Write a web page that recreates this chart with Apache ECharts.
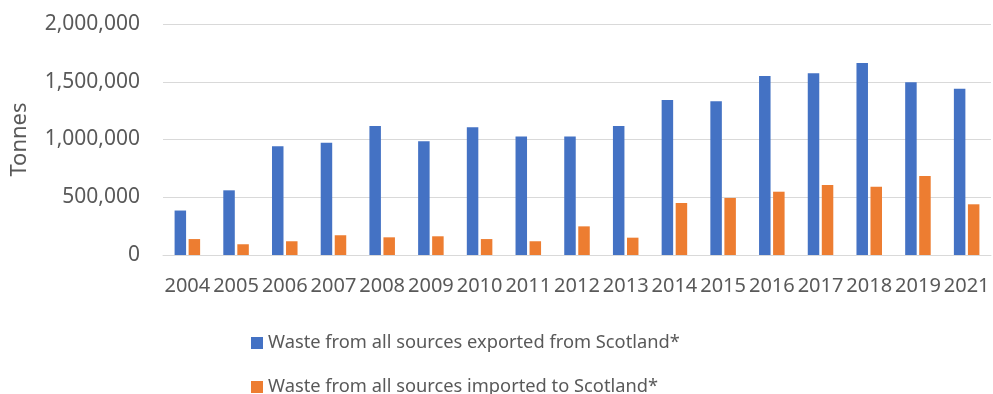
<!DOCTYPE html>
<html>
<head>
<meta charset="utf-8">
<script src="https://cdn.jsdelivr.net/npm/echarts@6/dist/echarts.min.js"></script>
<style>
html,body{margin:0;padding:0;background:#fff;}
#chart{width:993px;height:394px;}
</style>
</head>
<body>
<div id="chart"></div>
<script>
const categories = ['2004','2005','2006','2007','2008','2009','2010','2011','2012','2013','2014','2015','2016','2017','2018','2019','2021'];
const exported = [385000, 560000, 941000, 972000, 1117000, 984000, 1105000, 1027000, 1027000, 1117000, 1342000, 1331000, 1550000, 1573000, 1662000, 1495000, 1440000];
const imported = [138000, 93000, 119000, 171000, 153000, 162000, 138000, 119000, 248000, 150000, 450000, 494000, 548000, 606000, 591000, 684000, 439000];
const seriesNames = ['Waste from all sources exported from Scotland*', 'Waste from all sources imported to Scotland*'];
const yAxisName = 'Tonnes';

const FONT = '"Noto Sans", "Open Sans", sans-serif';
const TXT = '#595959';
const legendBase = {
  orient: 'vertical',
  left: 246,
  itemWidth: 12,
  itemHeight: 12,
  icon: 'rect',
  textStyle: {color: TXT, fontSize: 18.3, fontFamily: FONT}
};
const chart = echarts.init(document.getElementById('chart'), null, {renderer:'canvas'});
chart.setOption({
  animation: false,
  textStyle: {fontFamily: FONT},
  grid: {left: 163, right: 2, top: 24, height: 231},
  legend: [
    Object.assign({}, legendBase, {top: 329, data: [seriesNames[0]]}),
    Object.assign({}, legendBase, {top: 373, data: [seriesNames[1]]})
  ],
  xAxis: {
    type: 'category',
    data: categories,
    axisLine: {lineStyle: {color: '#d9d9d9', width: 1}},
    axisTick: {show: false},
    axisLabel: {interval: 0, color: TXT, fontSize: 20, margin: 21, fontFamily: FONT}
  },
  yAxis: {
    type: 'value',
    min: 0, max: 2000000, interval: 500000,
    name: yAxisName,
    nameLocation: 'middle',
    nameRotate: 90,
    nameGap: 132,
    nameTextStyle: {color: TXT, fontSize: 22, fontFamily: FONT},
    axisLabel: {
      color: TXT, fontSize: 21, margin: 23, fontFamily: FONT,
      formatter: v => v.toLocaleString('en-US')
    },
    splitLine: {lineStyle: {color: '#d9d9d9', width: 1}},
    axisLine: {show: false},
    axisTick: {show: false}
  },
  series: [
    {name: seriesNames[0], type: 'bar', data: exported, barWidth: 11.5, barGap: '22%', itemStyle: {color: '#4472C4'}},
    {name: seriesNames[1], type: 'bar', data: imported, barWidth: 11.5, barGap: '22%', itemStyle: {color: '#ED7D31'}}
  ]
});
</script>
</body>
</html>
